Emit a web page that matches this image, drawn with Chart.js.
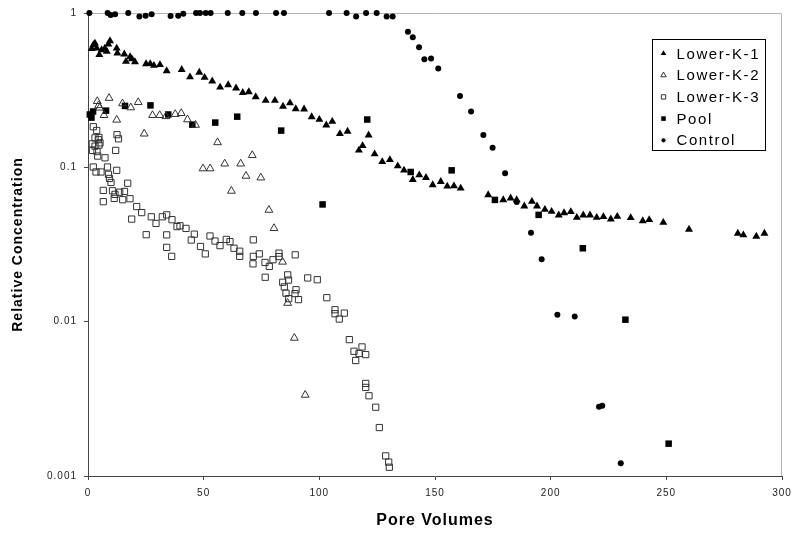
<!DOCTYPE html>
<html>
<head>
<meta charset="utf-8">
<script src="https://cdn.jsdelivr.net/npm/chart.js@4/dist/chart.umd.min.js"></script>
<style>
  html, body { margin: 0; padding: 0; background: #fff; }
  #wrap { width: 800px; height: 537px; }
</style>
</head>
<body>
<div id="wrap"><canvas id="chart" width="800" height="537"></canvas></div>
<script>
// axis ticks
const xTicks = [0, 50, 100, 150, 200, 250, 300];
const yTicks = [0.001, 0.01, 0.1, 1];
const yTickLabels = ["0.001", "0.01", "0.1", "1"];

// series names
const seriesNames = ["Lower-K-1", "Lower-K-2", "Lower-K-3", "Pool", "Control"];

// Lower-K-1 (filled triangles)
const lk1X = [1.6, 2.3, 3.0, 3.8, 4.9, 5.9, 7.3, 8.1, 8.8, 9.5, 12.4, 12.7, 15.7, 16.4, 18.2,
  19.0, 20.3, 25.1, 26.9, 28.5, 31.1, 34.0, 40.5, 44.1, 48.1, 50.4, 53.7, 57.1, 60.6, 64.0,
  66.9, 69.5, 72.5, 76.8, 80.8, 84.3, 87.3, 89.8, 93.4, 96.7, 100.0, 103.0, 105.6, 108.9, 112.2,
  117.1, 118.7, 121.3, 123.9, 127.2, 130.5, 133.9, 136.6, 140.4, 143.2, 146.1, 149.0, 152.5, 155.3, 158.2,
  161.1, 173.0, 179.5, 182.7, 185.3, 188.6, 191.9, 194.1, 197.5, 200.4, 203.5, 205.8, 208.7, 211.3, 214.1,
  217.0, 219.9, 222.8, 226.0, 228.8, 234.6, 239.8, 242.6, 248.7, 259.8, 280.9, 283.3, 288.9, 292.4];
const lk1Y = [0.586, 0.622, 0.637, 0.591, 0.536, 0.577, 0.591, 0.563, 0.627, 0.660, 0.591, 0.549, 0.541, 0.485, 0.519,
  0.503, 0.482, 0.468, 0.469, 0.457, 0.462, 0.422, 0.429, 0.385, 0.412, 0.382, 0.362, 0.330, 0.342, 0.326,
  0.305, 0.308, 0.286, 0.271, 0.271, 0.248, 0.261, 0.239, 0.238, 0.212, 0.204, 0.1875, 0.198, 0.165, 0.171,
  0.129, 0.138, 0.1616, 0.122, 0.1087, 0.112, 0.102, 0.0957, 0.0832, 0.0892, 0.0857, 0.0769, 0.0807, 0.0754, 0.0757,
  0.0732, 0.0663, 0.0615, 0.0631, 0.0615, 0.056, 0.060, 0.056, 0.0533, 0.0517, 0.049, 0.0507, 0.0515, 0.0473, 0.049,
  0.049, 0.0473, 0.0478, 0.0462, 0.048, 0.0471, 0.045, 0.0457, 0.0439, 0.0396, 0.0373, 0.0364, 0.0357, 0.0373];

// Lower-K-2 (open triangles)
const lk2X = [4.0, 4.6, 5.0, 6.9, 9.1, 12.4, 14.9, 18.5, 21.7, 24.3, 27.9, 31.0, 33.7, 37.7, 40.3, 43.0,
  46.5, 56.0, 49.7, 52.8, 59.1, 62.0, 66.0, 68.3, 71.0, 74.7, 78.2, 80.4, 84.1, 86.3, 89.2, 93.9];
const lk2Y = [0.268, 0.252, 0.243, 0.2175, 0.281, 0.203, 0.259, 0.244, 0.264, 0.165, 0.2175, 0.2175, 0.214, 0.221, 0.224, 0.204,
  0.188, 0.145, 0.0982, 0.0982, 0.1055, 0.0703, 0.1055, 0.0879, 0.1197, 0.0857, 0.0529, 0.0403, 0.0244, 0.0132, 0.00784, 0.00335];

// Lower-K-3 (open squares)
const lk3X = [2.29, 3.76, 3.03, 4.76, 4.45, 1.86, 5.19, 4.76, 3.03, 1.95,
  3.89, 4.19, 7.35, 11.97, 12.54, 13.18, 2.29, 3.46, 5.62, 8.43,
  12.41, 8.86, 9.29, 9.94, 17.16, 6.61, 10.59, 11.67, 13.70, 15.78,
  18.16, 15.0, 11.33, 6.61, 21.05, 23.21, 18.89, 27.36, 29.40, 32.12,
  34.02, 36.31, 38.47, 39.77, 42.36, 25.16, 34.02, 34.02, 36.18, 44.66,
  45.95, 48.63, 50.71, 52.74, 54.90, 57.06, 59.79, 61.38, 63.11, 65.58,
  65.58, 71.46, 71.46, 74.05, 71.33, 76.52, 78.37, 79.97, 82.57, 82.57,
  89.57, 76.60, 84.17, 86.33, 86.68, 84.86, 89.92, 89.48, 85.59, 86.76,
  90.99, 94.97, 99.12, 103.23, 106.77, 106.77, 110.8, 108.63, 112.96, 114.99,
  118.45, 117.15, 120.05, 115.72, 120.05, 120.05, 121.47, 124.37, 125.93, 128.69,
  129.99, 130.25];
const lk3Y = [0.1833, 0.1733, 0.1552, 0.1561, 0.1511, 0.142, 0.1441, 0.1393, 0.1372, 0.1287,
  0.1265, 0.1183, 0.1153, 0.1287, 0.1628, 0.153, 0.1005, 0.0933, 0.0933, 0.1005,
  0.0956, 0.0901, 0.0847, 0.0798, 0.0789, 0.0709, 0.0705, 0.0668, 0.069, 0.0698,
  0.0626, 0.0617, 0.0629, 0.0599, 0.0557, 0.0509, 0.0462, 0.0478, 0.0433, 0.0478,
  0.0492, 0.0458, 0.0413, 0.0418, 0.0402, 0.0366, 0.0365, 0.0303, 0.0265, 0.0338,
  0.0369, 0.0307, 0.0275, 0.0359, 0.0333, 0.0311, 0.0341, 0.033, 0.0299, 0.0286,
  0.0265, 0.0339, 0.0265, 0.0275, 0.0237, 0.0242, 0.0228, 0.0252, 0.0278, 0.0264,
  0.0271, 0.0194, 0.018, 0.0201, 0.0186, 0.0168, 0.0161, 0.0152, 0.0153, 0.0141,
  0.0139, 0.0192, 0.0187, 0.0143, 0.01195, 0.01126, 0.01136, 0.0104, 0.00765, 0.00643,
  0.00686, 0.00622, 0.00612, 0.0056, 0.00398, 0.00375, 0.00331, 0.00279, 0.00206, 0.00135,
  0.00123, 0.00114];

// Pool (filled squares)
const poolX = [0.8, 1.5, 2.2, 7.8, 16.0, 27.0, 34.7, 45.1, 55.0, 64.5, 83.5, 101.4, 120.7,
  139.5, 157.2, 175.9, 194.8, 213.9, 232.3, 251.0];
const poolY = [0.22, 0.21, 0.23, 0.233, 0.250, 0.252, 0.220, 0.189, 0.195, 0.213, 0.173, 0.0575, 0.204,
  0.0933, 0.0956, 0.0615, 0.0492, 0.0299, 0.0103, 0.00162];

// Control (filled dots)
const controlX = [0.6, 8.5, 9.8, 11.7, 17.4, 22.2, 24.9, 27.5, 35.7, 39.0, 41.2, 46.7, 48.4, 50.9, 53.0,
  60.4, 66.7, 72.6, 81.3, 84.7, 104.2, 111.8, 115.9, 120.2, 124.8, 129.1, 131.7,
  138.3, 140.4, 143.1, 145.4, 148.3, 151.4, 160.8, 165.6, 170.9, 174.9, 180.3, 185.3,
  191.5, 196.1, 202.9, 210.4, 220.9, 222.3, 230.3];
const controlY = [1.0, 1.0, 0.97, 0.98, 1.0, 0.95, 0.96, 0.98, 0.955, 0.96, 0.99, 1.0, 1.0, 1.0, 1.0,
  1.0, 1.0, 1.0, 1.0, 1.0, 1.0, 1.0, 0.95, 1.0, 1.0, 0.95, 0.95,
  0.757, 0.696, 0.600, 0.502, 0.507, 0.437, 0.290, 0.230, 0.162, 0.134, 0.0915, 0.0597,
  0.0377, 0.0254, 0.0111, 0.0108, 0.00281, 0.00285, 0.00121];

const toPoints = (xs, ys) => xs.map((x, i) => ({ x: x, y: ys[i] }));

// marker look for each series
const markerStyles = [
  { pointStyle: "triangle", radius: 4.6, bg: "#000", border: "#000", bw: 0 },
  { pointStyle: "triangle", radius: 4.5, bg: "rgba(255,255,255,0)", border: "#333", bw: 1 },
  { pointStyle: "rect", radius: 4.4, bg: "rgba(255,255,255,0)", border: "#333", bw: 1 },
  { pointStyle: "rect", radius: 4.6, bg: "#000", border: "#000", bw: 0 },
  { pointStyle: "circle", radius: 3, bg: "#000", border: "#000", bw: 0 },
];
const seriesData = [
  toPoints(lk1X, lk1Y),
  toPoints(lk2X, lk2Y),
  toPoints(lk3X, lk3Y),
  toPoints(poolX, poolY),
  toPoints(controlX, controlY),
];

const font = "Liberation Sans, Arial, sans-serif";

// wider letter spacing like the old spreadsheet output
const spacing = {
  id: "spacing",
  beforeUpdate(chart) { chart.ctx.letterSpacing = "1px"; },
  beforeDraw(chart) { chart.ctx.letterSpacing = "1px"; },
};

// light grey frame on top and right of plot
const frame = {
  id: "frame",
  beforeDatasetsDraw(chart) {
    const { ctx, chartArea: a } = chart;
    ctx.save();
    ctx.strokeStyle = "#b4b4b4";
    ctx.lineWidth = 1;
    ctx.beginPath();
    ctx.moveTo(a.left, a.top + 0.5);
    ctx.lineTo(a.right - 0.5, a.top + 0.5);
    ctx.lineTo(a.right - 0.5, a.bottom);
    ctx.stroke();
    ctx.restore();
  },
};

// boxed legend inside the plot, top right
const boxLegend = {
  id: "boxLegend",
  afterDraw(chart) {
    const ctx = chart.ctx;
    const a = chart.chartArea;
    const bx = a.right - 129.5, by = a.top + 26.5, bw = 113, bh = 111;
    ctx.save();
    ctx.fillStyle = "#fff";
    ctx.fillRect(bx, by, bw, bh);
    ctx.strokeStyle = "#000";
    ctx.lineWidth = 1;
    ctx.strokeRect(bx, by, bw, bh);
    ctx.letterSpacing = "1.6px";
    ctx.font = "15px " + font;
    ctx.textBaseline = "middle";
    seriesNames.forEach((name, i) => {
      const y = by + 14 + i * 21.7;
      const m = markerStyles[i];
      ctx.fillStyle = m.bg;
      ctx.strokeStyle = m.border;
      ctx.lineWidth = m.bw;
      Chart.helpers.drawPoint(ctx, { pointStyle: m.pointStyle, radius: m.radius * 0.7, rotation: 0, borderWidth: m.bw }, bx + 11, y);
      ctx.fillStyle = "#000";
      ctx.fillText(name, bx + 24, y + 1);
    });
    ctx.restore();
  },
};

new Chart(document.getElementById("chart"), {
  type: "scatter",
  data: {
    datasets: seriesData.map((pts, i) => ({
      label: seriesNames[i],
      data: pts,
      pointStyle: markerStyles[i].pointStyle,
      pointRadius: markerStyles[i].radius,
      pointBackgroundColor: markerStyles[i].bg,
      pointBorderColor: markerStyles[i].border,
      pointBorderWidth: markerStyles[i].bw,
      clip: false,
    })),
  },
  options: {
    responsive: false,
    animation: false,
    devicePixelRatio: 1,
    layout: { padding: { top: 11, right: 18, left: 0, bottom: 0 } },
    plugins: {
      legend: { display: false },
      tooltip: { enabled: false },
    },
    scales: {
      x: {
        type: "linear",
        min: 0,
        max: 300,
        afterBuildTicks: (s) => { s.ticks = xTicks.map((v) => ({ value: v })); },
        afterFit: (s) => { s.height = 61; },
        ticks: { color: "#222", font: { family: font, size: 10 }, padding: 7, maxRotation: 0, autoSkip: false },
        grid: { drawOnChartArea: false, tickLength: 4, color: "#444" },
        border: { color: "#444" },
        title: {
          display: true,
          text: "Pore Volumes",
          color: "#000",
          font: { family: font, size: 16, weight: "bold" },
          padding: { top: 0, bottom: 7 },
        },
      },
      y: {
        type: "logarithmic",
        min: 0.001,
        max: 1,
        afterBuildTicks: (s) => { s.ticks = yTicks.map((v) => ({ value: v })); },
        afterFit: (s) => { s.width = 88; },
        ticks: {
          color: "#222",
          font: { family: font, size: 10 },
          padding: 7,
          autoSkip: false,
          callback: (v, i) => yTickLabels[i],
        },
        grid: { drawOnChartArea: false, tickLength: 4, color: "#444" },
        border: { color: "#444" },
        title: {
          display: true,
          text: "Relative Concentration",
          color: "#000",
          font: { family: font, size: 14, weight: "bold" },
          padding: { top: 10, bottom: 0 },
        },
      },
    },
  },
  plugins: [spacing, frame, boxLegend],
});
</script>
</body>
</html>
